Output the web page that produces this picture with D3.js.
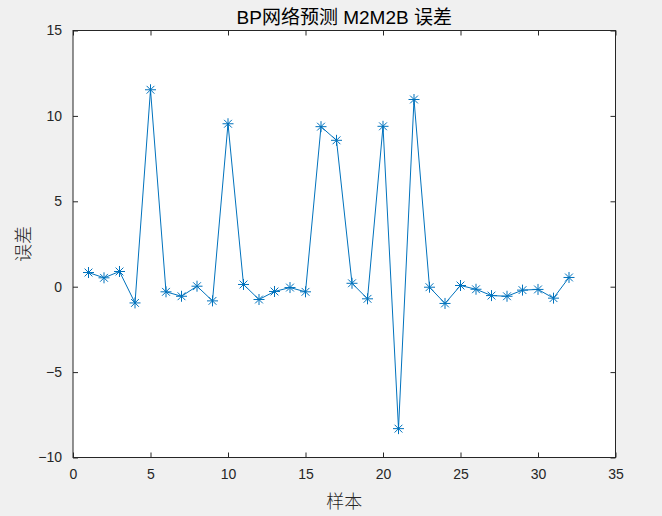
<!DOCTYPE html>
<html><head><meta charset="utf-8">
<script src="https://cdn.jsdelivr.net/npm/d3@7"></script>
<style>
html,body{margin:0;padding:0;background:#f0f0f0;}
svg{display:block;}
</style></head>
<body>
<svg id="c" width="662" height="516"></svg>
<script>
const samples = d3.range(1, 33);
const errors = [0.83, 0.52, 0.89, -0.95, 11.53, -0.30, -0.56, 0.03, -0.83, 9.54,
                0.13, -0.75, -0.28, -0.05, -0.30, 9.37, 8.57, 0.20, -0.71, 9.39,
                -8.31, 10.96, -0.03, -0.98, 0.07, -0.15, -0.52, -0.56, -0.20, -0.16,
                -0.67, 0.54];
const xTicks = [0, 5, 10, 15, 20, 25, 30, 35];
const yTicks = [-10, -5, 0, 5, 10, 15];
const titleText = "BP网络预测 M2M2B 误差";
const xLabel = "样本";
const yLabel = "误差";

const svg = d3.select("#c");
const L = 73, R = 615.5, T = 30.5, B = 457.5;
const x = d3.scaleLinear().domain([0, 35]).range([L, R]);
const y = d3.scaleLinear().domain([-10, 15]).range([B, T]);
const axisColor = "#262626";
const font = "'Liberation Sans', Arial, sans-serif";
const cjk = "'Noto Sans CJK SC', sans-serif";

svg.append("rect").attr("x", L).attr("y", T).attr("width", R - L).attr("height", B - T).attr("fill", "#fff");

function styleAxis(g) {
  g.select(".domain").remove();
  g.selectAll("line").attr("stroke", axisColor).attr("stroke-width", 1);
  g.selectAll("text").attr("fill", axisColor).attr("font-family", font).attr("font-size", 14);
}
const tl = 5;
svg.append("g").attr("transform", `translate(0,${B})`)
  .call(d3.axisBottom(x).tickValues(xTicks).tickSizeInner(-tl).tickSizeOuter(0).tickPadding(12))
  .call(styleAxis);
svg.append("g").attr("transform", `translate(0,${T})`)
  .call(d3.axisTop(x).tickValues(xTicks).tickSizeInner(-tl).tickSizeOuter(0).tickFormat(""))
  .call(styleAxis);
svg.append("g").attr("transform", `translate(${L},0)`)
  .call(d3.axisLeft(y).tickValues(yTicks).tickSizeInner(-tl).tickSizeOuter(0).tickPadding(11))
  .call(styleAxis);
svg.append("g").attr("transform", `translate(${R},0)`)
  .call(d3.axisRight(y).tickValues(yTicks).tickSizeInner(-tl).tickSizeOuter(0).tickFormat(""))
  .call(styleAxis);

svg.append("rect").attr("x", L).attr("y", T).attr("width", R - L).attr("height", B - T)
  .attr("fill", "none").attr("stroke", axisColor).attr("stroke-width", 1);

const color = "#0072BD";
const pts = samples.map((s, i) => [s, errors[i]]);
svg.append("path").datum(pts)
  .attr("d", d3.line().x(d => x(d[0])).y(d => y(d[1])))
  .attr("fill", "none").attr("stroke", color).attr("stroke-width", 1);

const r = 5.5, rd = 3.9;
const mk = svg.append("g").attr("stroke", color).attr("stroke-width", 1).attr("fill", "none");
pts.forEach(d => {
  const cx = x(d[0]), cy = y(d[1]);
  mk.append("path").attr("d",
    `M${cx - r},${cy}H${cx + r}M${cx},${cy - r}V${cy + r}` +
    `M${cx - rd},${cy - rd}L${cx + rd},${cy + rd}M${cx - rd},${cy + rd}L${cx + rd},${cy - rd}`);
});

svg.append("text").attr("x", (L + R) / 2).attr("y", 24).attr("text-anchor", "middle")
  .attr("font-family", font + ", " + cjk).attr("font-size", 19).attr("fill", "#000").text(titleText);
svg.append("text").attr("x", (L + R) / 2).attr("y", 508).attr("text-anchor", "middle")
  .attr("font-family", cjk).attr("font-size", 18).attr("font-weight", 300).attr("fill", axisColor).text(xLabel);
svg.append("text").attr("transform", `translate(30,${(T + B) / 2}) rotate(-90)`).attr("text-anchor", "middle")
  .attr("font-family", cjk).attr("font-size", 18).attr("font-weight", 300).attr("fill", axisColor).text(yLabel);
</script>
</body></html>
